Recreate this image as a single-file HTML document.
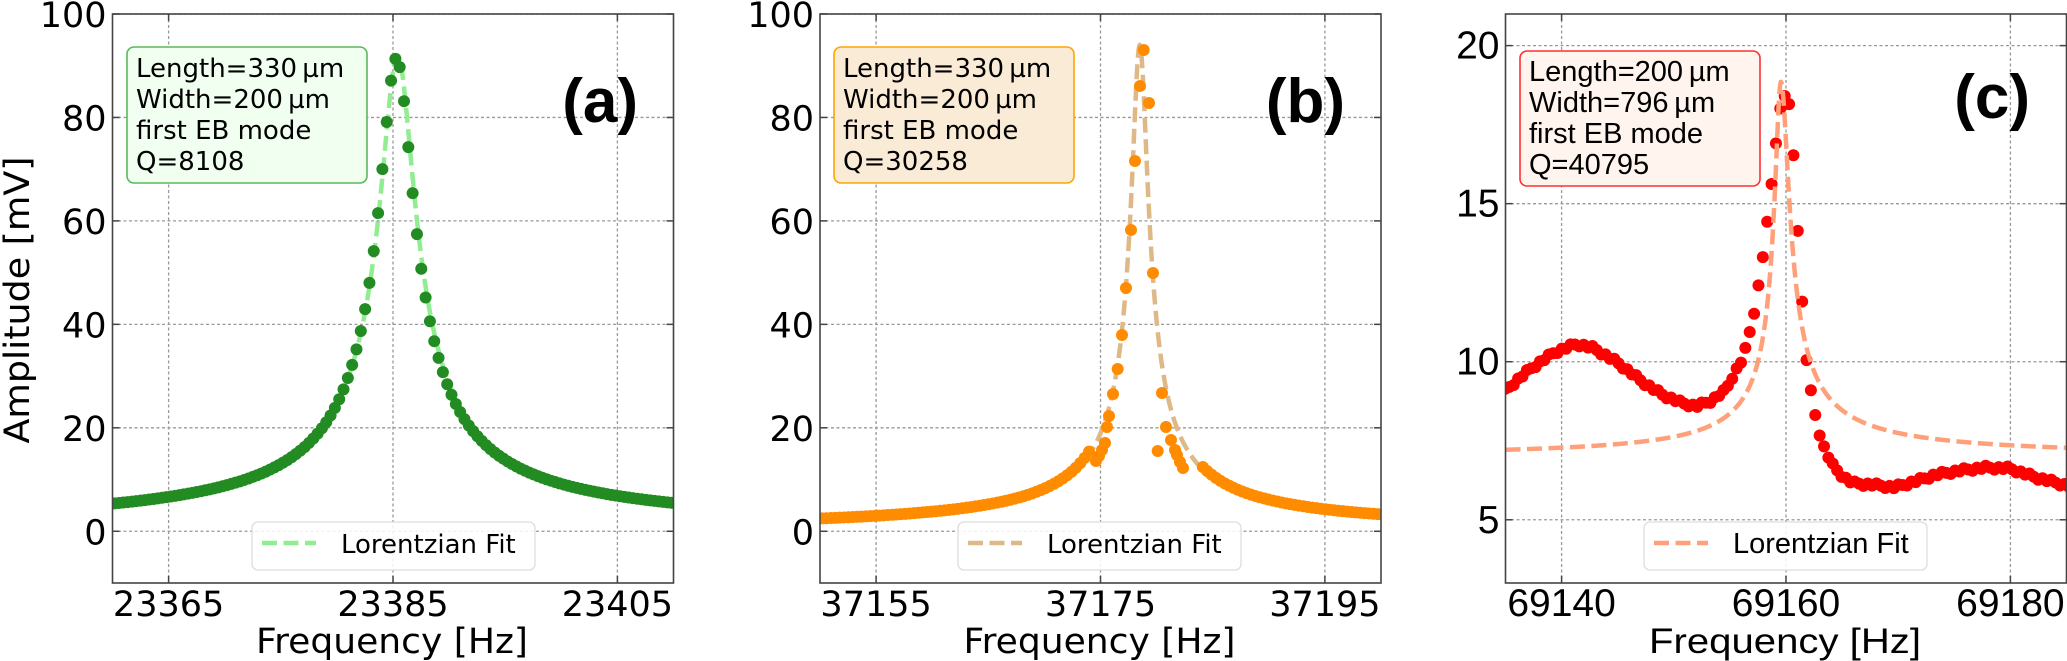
<!DOCTYPE html>
<html><head><meta charset="utf-8">
<style>
html,body{margin:0;padding:0;background:#fff;}
svg{display:block;}
</style></head>
<body>
<svg id="s" xmlns="http://www.w3.org/2000/svg" width="2067" height="661" viewBox="0 0 2067 661">
</svg>
<script>
const S=document.getElementById('s');
const NS='http://www.w3.org/2000/svg';
function el(t,a,txt,parent){const e=document.createElementNS(NS,t);for(const k in a)e.setAttribute(k,a[k]);if(txt!==undefined)e.textContent=txt;(parent||S).appendChild(e);return e;}
const TOP=14,BOT=583,W=561;

function panel(cfg){
  const L=cfg.left,R=L+W;
  const fx=f=>L+(f-cfg.x0)/(cfg.x1-cfg.x0)*W;
  const fy=v=>BOT-(v-cfg.y0)/(cfg.y1-cfg.y0)*(BOT-TOP);
  const g=el('g',{});
  const clipId='c'+cfg.id;
  const cp=el('clipPath',{id:clipId},undefined,g);
  el('rect',{x:L,y:TOP,width:W,height:BOT-TOP},undefined,cp);
  cfg.xt.forEach(t=>{const x=fx(t);el('line',{x1:x,x2:x,y1:TOP,y2:BOT,stroke:'#999','stroke-width':1.3,'stroke-dasharray':'3 2.5'},undefined,g);});
  cfg.yt.forEach(t=>{const y=fy(t);el('line',{x1:L,x2:R,y1:y,y2:y,stroke:'#999','stroke-width':1.3,'stroke-dasharray':'3 2.5'},undefined,g);});
  const cg=el('g',{'clip-path':'url(#'+clipId+')'},undefined,g);
  let d='';
  for(let f=cfg.x0;f<=cfg.x1;f+=0.02){d+=(d?'L':'M')+fx(f).toFixed(2)+' '+fy(cfg.fit(f)).toFixed(2);}
  const fitp=()=>el('path',{d:d,fill:'none',stroke:cfg.fc,'stroke-width':4.5,'stroke-dasharray':'15 6.5'},undefined,cg);
  if(!cfg.fitTop)fitp();
  cfg.data.forEach(p=>el('circle',{cx:p[0],cy:p[1],r:6,fill:cfg.dc},undefined,cg));
  if(cfg.fitTop)fitp();
  el('rect',{x:L,y:TOP,width:W,height:BOT-TOP,fill:'none',stroke:'#444','stroke-width':1.6},undefined,g);
  const font=cfg.font, fs=cfg.fs||35;
  cfg.xt.forEach(t=>{const x=fx(t);
    el('line',{x1:x,x2:x,y1:BOT,y2:BOT-7,stroke:'#444','stroke-width':1.5},undefined,g);
    el('line',{x1:x,x2:x,y1:TOP,y2:TOP+7,stroke:'#444','stroke-width':1.5},undefined,g);
    el('text',{x:x,y:616,'font-family':font,'font-size':fs,'text-anchor':'middle'},String(t),g);});
  cfg.yt.forEach(t=>{const y=fy(t);
    el('line',{x1:L,x2:L+7,y1:y,y2:y,stroke:'#444','stroke-width':1.5},undefined,g);
    el('line',{x1:R,x2:R-7,y1:y,y2:y,stroke:'#444','stroke-width':1.5},undefined,g);
    el('text',{x:L-6,y:y+13,'font-family':font,'font-size':fs,'text-anchor':'end'},String(t),g);});
  el('text',{x:L+W/2-1,y:653,'font-family':font,'font-size':35,'text-anchor':'middle',textLength:272,lengthAdjust:'spacingAndGlyphs'},'Frequency [Hz]',g);
  const b=cfg.box;
  el('rect',{x:b[0],y:b[1],width:b[2]-b[0],height:b[3]-b[1],rx:7,fill:cfg.bf,stroke:cfg.bs,'stroke-width':1.6},undefined,g);
  cfg.lines.forEach((s,i)=>el('text',{x:b[0]+9,y:b[1]+30+i*31,'font-family':font,'font-size':cfg.bfs||26},s,g));
  el('text',{x:cfg.lab[0],y:cfg.lab[1],'font-family':'Liberation Sans, sans-serif','font-size':62,'font-weight':'bold','text-anchor':'end'},cfg.label,g);
  const lg=cfg.leg;
  el('rect',{x:lg,y:522,width:283,height:48,rx:6,fill:'#fff','fill-opacity':0.85,stroke:'#ddd','stroke-width':1.3},undefined,g);
  el('line',{x1:lg+10,x2:lg+64,y1:543,y2:543,stroke:cfg.fc,'stroke-width':4.5,'stroke-dasharray':'15 6.5'},undefined,g);
  el('text',{x:lg+89,y:553,'font-family':font,'font-size':cfg.bfs||26},'Lorentzian Fit',g);
}

(function(){
  const cfg={id:'a',left:112.5,x0:23360,x1:23410,y0:-10,y1:100,xt:[23365,23385,23405],yt:[0,20,40,60,80,100],
    dc:'#228b22',fc:'#90ee90',font:'DejaVu Sans, sans-serif',
    fit:f=>92/Math.sqrt(1+Math.pow((f-23385.4)/1.5,2)),
    box:[127,47,367,183],bf:'#f0fff0',bs:'#5cb85c',
    lines:['Length=330\u2009\u00b5m','Width=200\u2009\u00b5m','first EB mode','Q=8108'],
    label:'(a)',lab:[638,122],leg:252};
  const L=cfg.left,fx=f=>L+(f-cfg.x0)/50*W,fy=v=>BOT-(v+10)/110*(BOT-TOP);
  cfg.data=[];
  for(let f=23359.8;f<=23410.5;f+=0.385){
    let v=91.5/Math.sqrt(1+Math.pow((f-23385.3)/1.48,2));
    cfg.data.push([fx(f),fy(v)]);
  }
  panel(cfg);
})();

(function(){
  const cfg={id:'b',left:820,x0:37150,x1:37200,y0:-10,y1:100,xt:[37155,37175,37195],yt:[0,20,40,60,80,100],
    dc:'#ff8c00',fc:'#deb887',font:'DejaVu Sans, sans-serif',
    fit:f=>94/Math.sqrt(1+Math.pow((f-37178.5)/0.72,2)),
    box:[834,47,1074,183],bf:'#faebd7',bs:'#ffa500',
    lines:['Length=330\u2009\u00b5m','Width=200\u2009\u00b5m','first EB mode','Q=30258'],
    label:'(b)',lab:[1345,122],leg:958};
  const L=cfg.left,fx=f=>L+(f-cfg.x0)/50*W,fy=v=>BOT-(v+10)/110*(BOT-TOP);
  cfg.data=[];
  for(let f=37149.8;f<=37200.5;f+=0.39){
    const d=f-37178.5;
    if(d>-4.2&&d<5.3)continue;
    cfg.data.push([fx(f),fy(94/Math.sqrt(1+Math.pow(d/0.75,2)))]);
  }
  const peak=[[1143.7,50],[1140,86],[1149,103],[1135,161],[1131,230],[1126,288],[1153,273],[1122,335],[1117.7,369],[1113,394],[1109,416],[1107,427],[1105,443],[1102,450],[1099,456],[1096,461],[1162,393],[1166,427],[1157.7,451],[1171,440],[1175,450],[1177,455],[1180,462],[1183,468]];
  peak.forEach(p=>cfg.data.push(p));
  panel(cfg);
})();

(function(){
  const cfg={id:'c',left:1505.5,x0:69135,x1:69185,y0:3,y1:21,xt:[69140,69160,69180],yt:[5,10,15,20],
    dc:'#ff0000',fc:'#ffa07a',font:'Liberation Sans, sans-serif',fs:39,bfs:29,fitTop:true,
    fit:f=>{const d=f-69159.55;const g=d<0?0.545:0.70;return 6.95+11.9/Math.sqrt(1+Math.pow(d/g,2));},
    box:[1520,51,1760,186],bf:'#fff5ee',bs:'#ff3030',
    lines:['Length=200\u2009\u00b5m','Width=796\u2009\u00b5m','first EB mode','Q=40795'],
    label:'(c)',lab:[2030,118],leg:1644};
  const tr=[[410,935],[420,925],[470,875],[520,835],[565,815],[600,825],[650,860],[700,905],[740,935],[780,955],[810,963],[840,950],[870,925],[885,890],[905,850],[913,818],[923,768],[932,718],[941,648],[950,575],[959,493],[968,388],[977,290],[986,232],[996,218],[1005,300],[1014,472],[1023,655],[1032,818],[1041,908],[1050,966],[1059,1015],[1068,1052],[1078,1078],[1090,1105],[1110,1130],[1130,1145],[1180,1150],[1215,1155],[1260,1140],[1300,1125],[1350,1115],[1400,1108],[1450,1110],[1500,1130],[1565,1150],[1600,1158]];
  const pts=tr.map(p=>[1300+p[0]/2.044,p[1]/2.37]);
  cfg.data=[];
  const step=4.37;
  let k=0;
  for(let x=1505;x<=2070;x+=step){
    let i=0;while(i<pts.length-2&&pts[i+1][0]<x)i++;
    const a=pts[i],b=pts[i+1];const t=(x-a[0])/(b[0]-a[0]);
    const jit=((k++*7)%5-2)*0.9;
    cfg.data.push([x,a[1]+(b[1]-a[1])*t+jit]);
  }
  panel(cfg);
})();

el('text',{x:0,y:0,transform:'translate(29,300) rotate(-90)','font-family':'DejaVu Sans, sans-serif','font-size':35,'text-anchor':'middle',textLength:287,lengthAdjust:'spacingAndGlyphs'},'Amplitude [mV]');
</script>
</body></html>
